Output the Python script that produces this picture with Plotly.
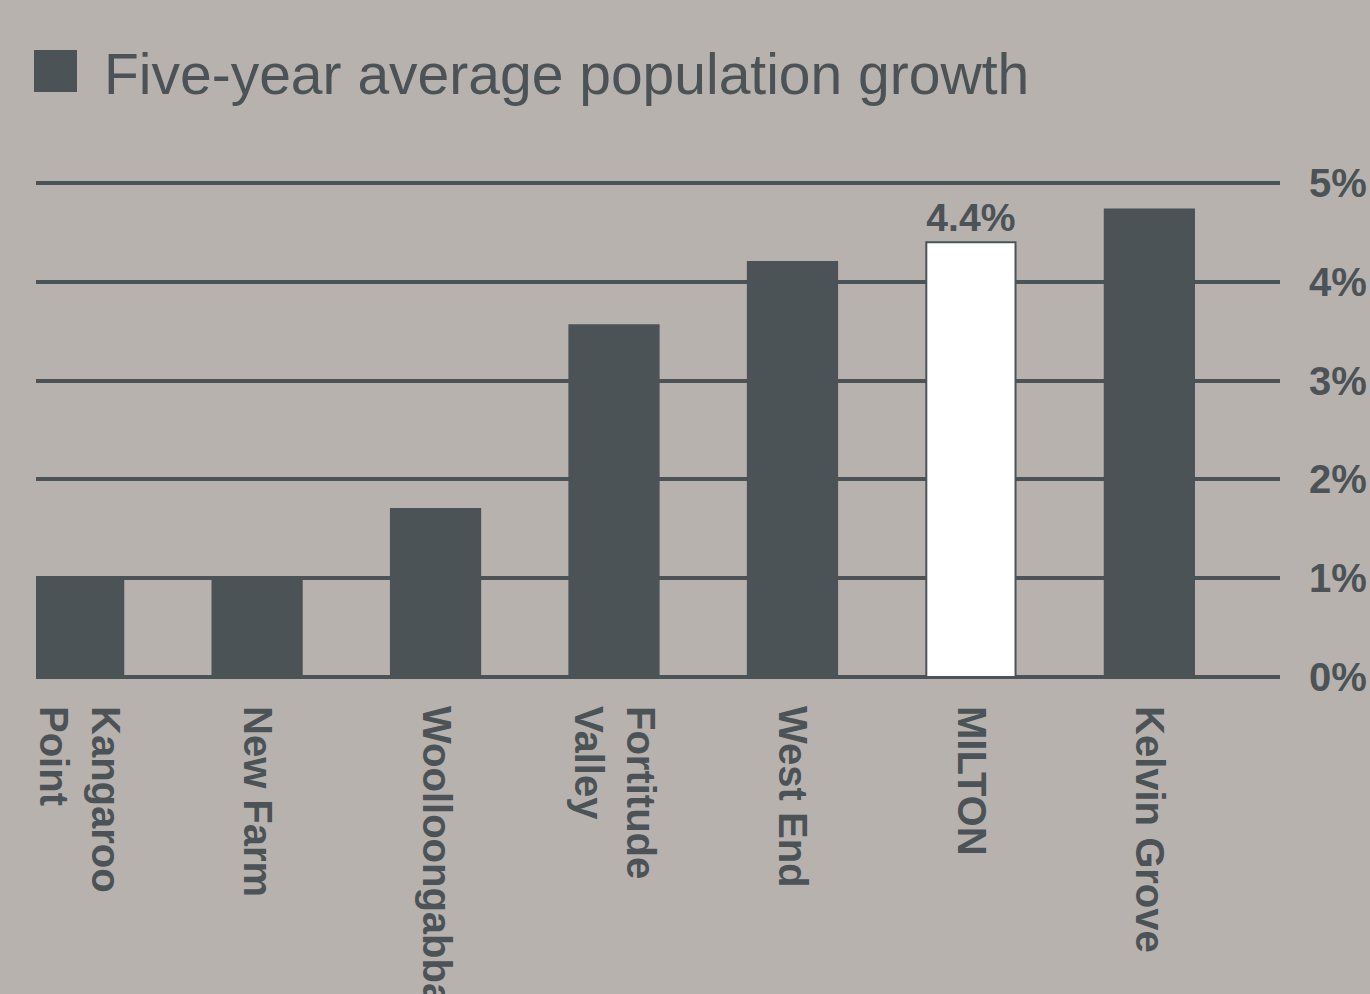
import plotly.graph_objects as go

suburbs = ["Kangaroo<br>Point", "New Farm", "Woolloongabba", "Fortitude<br>Valley", "West End", "MILTON", "Kelvin Grove"]
growth = [1.0, 1.0, 1.7, 3.56, 4.2, 4.4, 4.73]
highlight = "MILTON"
y_ticks = [0, 1, 2, 3, 4, 5]
title_text = "Five-year average population growth"

BG = "#b7b2ae"
DARK = "#4b5357"
FONT = "Liberation Sans, Arial, sans-serif"

colors = ["#ffffff" if s == highlight else DARK for s in suburbs]
labels = [f"{v:.1f}%" if s == highlight else "" for s, v in zip(suburbs, growth)]

fig = go.Figure()
fig.add_trace(go.Bar(
    x=suburbs, y=growth,
    width=0.5,
    marker=dict(color=colors, line=dict(color=DARK, width=2)),
    text=labels, textposition="outside", cliponaxis=False,
    textfont=dict(family=FONT, size=41, color=DARK, weight="bold"),
    hoverinfo="skip",
))

W, H = 1370, 994
t, b, l, r = 178, 317, 36, 90
ph = H - t - b
pw = W - l - r

fig.update_layout(
    width=W, height=H,
    margin=dict(l=l, r=r, t=t, b=b, pad=0, autoexpand=False),
    paper_bgcolor=BG, plot_bgcolor=BG,
    showlegend=False,
    font=dict(family=FONT, color=DARK),
    xaxis=dict(
        type="category", range=[-0.239, 6.732], automargin=False,
        tickangle=90, showgrid=False, zeroline=False, showline=False,
        ticks="", ticklabelstandoff=28,
        tickfont=dict(family=FONT, size=40, color=DARK, weight="bold"),
    ),
    yaxis=dict(
        range=[0, 5.05], side="right", automargin=False,
        tickvals=y_ticks, ticktext=[f"{v}%" for v in y_ticks],
        showgrid=True, gridcolor=DARK, gridwidth=3.5,
        zeroline=True, zerolinecolor=DARK, zerolinewidth=3.5,
        showline=False, ticks="", ticklabelstandoff=28,
        tickfont=dict(family=FONT, size=40, color=DARK, weight="bold"),
    ),
    bargap=0.5,
)

# Legend-style title: square swatch + text
fig.add_shape(type="rect", xref="paper", yref="paper",
              x0=(34 - l) / pw, x1=(77 - l) / pw,
              y0=1 + (t - 92) / ph, y1=1 + (t - 50) / ph,
              fillcolor=DARK, line=dict(width=0))
fig.add_annotation(xref="paper", yref="paper",
                   x=(102 - l) / pw, y=1 + (t - 74) / ph,
                   xanchor="left", yanchor="middle",
                   text=title_text, showarrow=False,
                   font=dict(family=FONT, size=57, color=DARK))

fig.write_html("out.html")
